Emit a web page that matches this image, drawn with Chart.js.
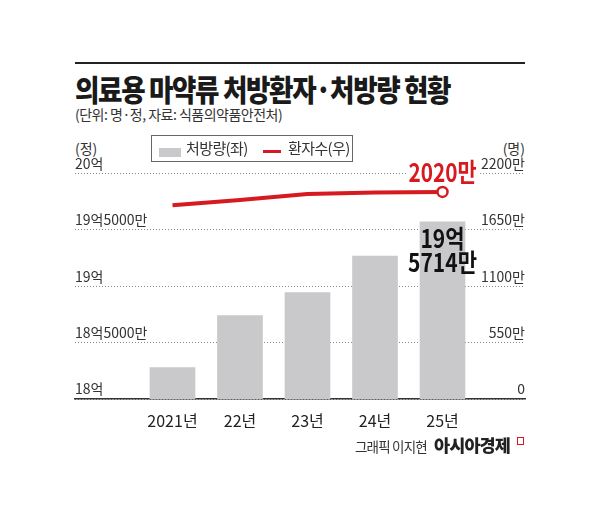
<!DOCTYPE html>
<html>
<head>
<meta charset="utf-8">
<script src="https://cdn.jsdelivr.net/npm/chart.js@4.4.1/dist/chart.umd.min.js"></script>
<style>
  body { margin: 0; width: 600px; height: 525px; background: #fff; position: relative; overflow: hidden;
         font-family: "Noto Sans CJK KR", sans-serif; color: #222; }
  .abs { position: absolute; white-space: nowrap; }
  #rule { left: 75px; top: 62px; width: 450px; height: 2px; background: #222; }
  #title { left: 75px; top: 71px; font-size: 29.5px; font-weight: 900; letter-spacing: -1.5px; transform: scaleX(0.9); transform-origin: left; line-height: 34px; color: #1a1a1a; }
  #sub { left: 75px; top: 104px; font-size: 14px; letter-spacing: -0.5px; line-height: 20px; color: #333; }
  #legend { left: 151px; top: 135px; width: 202px; height: 27px; border: 1px solid #666; box-sizing: border-box; }
  .sw { position: absolute; }
  .lt { position: absolute; top: 2px; font-size: 15px; letter-spacing: -0.6px; line-height: 20px; color: #333; }
  .unit { top: 139px; font-size: 14px; color: #333; line-height: 18px; }
  #wrap { left: 0; top: 120px; width: 600px; height: 320px; }
  #foot1 { left: 355px; top: 437px; font-size: 13.5px; letter-spacing: -0.8px; color: #333; line-height: 18px; }
  #foot2 { left: 434px; top: 434px; font-size: 17.5px; font-weight: 900; letter-spacing: -0.9px; color: #222; line-height: 22px; }
  #flag { left: 517px; top: 437px; width: 5px; height: 6px; border: 1.5px solid #d71920; border-right-width: 1px; }
</style>
</head>
<body>
<div class="abs" id="rule"></div>
<div class="abs" id="title">의료용 마약류 처방환자·처방량 현황</div>
<div class="abs" id="sub">(단위: 명·정, 자료: 식품의약품안전처)</div>
<div class="abs unit" style="left:75px">(정)</div>
<div class="abs unit" style="right:75px">(명)</div>
<div class="abs" id="wrap"><canvas id="chart" width="600" height="320"></canvas></div>
<div class="abs" id="legend">
  <div class="sw" style="left:7px;top:12px;width:22px;height:9px;background:#c9c9cb"></div>
  <div class="lt" style="left:34px">처방량(좌)</div>
  <div class="sw" style="left:111px;top:14px;width:18px;height:3px;background:#d71920"></div>
  <div class="lt" style="left:136px">환자수(우)</div>
</div>
<div class="abs" id="foot1">그래픽 이지현</div>
<div class="abs" id="foot2">아시아경제</div>
<div class="abs" id="flag"></div>

<script>
// 단위: 만 정 / 만 명
const years = ['2021년', '22년', '23년', '24년', '25년'];
const prescriptions = [182790, 187400, 189440, 192680, 195714];
const patients = [1890, 1942, 2000, 2014, 2020];
const leftTicks = [180000, 185000, 190000, 195000, 200000];
const rightTicks = [0, 550, 1100, 1650, 2200];
const barNote = ['19억', '5714만'];
const lineNote = '2020만';

const RED = '#d71920';
const GREY = '#c9c9cb';
const FONT = '"Noto Sans CJK KR", sans-serif';

function leftLabel(v) {
  const eok = Math.floor(v / 10000);
  const man = v % 10000;
  return man ? eok + '억' + man + '만' : eok + '억';
}

// condensed text, centred on x
function narrowText(ctx, text, x, y, sx) {
  ctx.save();
  ctx.translate(x, y);
  ctx.scale(sx, 1);
  ctx.fillText(text, 0, 0);
  ctx.restore();
}

// last-value notes on the bar and on the line
const notes = {
  id: 'notes',
  afterDatasetsDraw(chart) {
    const ctx = chart.ctx;
    const last = years.length - 1;
    const bar = chart.getDatasetMeta(0).data[last];
    const pt = chart.getDatasetMeta(1).data[last];
    ctx.save();
    ctx.textAlign = 'center';
    ctx.textBaseline = 'middle';
    ctx.fillStyle = '#111';
    ctx.font = '700 25px ' + FONT;
    narrowText(ctx, barNote[0], bar.x, bar.y + 17, 0.84);
    narrowText(ctx, barNote[1], bar.x, bar.y + 41, 0.84);

    ctx.font = '700 26px ' + FONT;
    const w = ctx.measureText(lineNote).width * 0.8;
    ctx.fillStyle = '#fff';
    ctx.fillRect(pt.x - w / 2 - 2, pt.y - 32, w + 4, 24);
    ctx.fillStyle = RED;
    narrowText(ctx, lineNote, pt.x, pt.y - 20, 0.8);
    ctx.restore();
  }
};

new Chart(document.getElementById('chart'), {
  data: {
    datasets: [{
      type: 'bar',
      label: '처방량(좌)',
      data: prescriptions.map((v, i) => ({ x: i, y: v })),
      yAxisID: 'y',
      backgroundColor: GREY,
      barThickness: 45,
      order: 2
    }, {
      type: 'line',
      label: '환자수(우)',
      data: patients.map((v, i) => ({ x: i, y: v })),
      yAxisID: 'y1',
      borderColor: RED,
      borderWidth: 4,
      tension: 0,
      pointRadius: patients.map((v, i) => i === patients.length - 1 ? 5 : 0),
      pointBackgroundColor: '#fff',
      pointBorderColor: RED,
      pointBorderWidth: 2.5,
      order: 1
    }]
  },
  options: {
    responsive: false,
    animation: false,
    layout: { padding: { left: 75, right: 75, top: 53.5, bottom: 11 } },
    plugins: { legend: { display: false }, tooltip: { enabled: false } },
    scales: {
      x: {
        type: 'linear',
        offset: false,
        min: -1.444,
        max: 5.222,
        afterBuildTicks: (s) => { s.ticks = years.map((_, i) => ({ value: i })); },
        afterFit: (s) => { s.height = 30; },
        grid: { display: false, drawTicks: false, offset: false },
        border: { display: true, color: '#333', width: 1.5 },
        ticks: {
          autoSkip: false,
          maxRotation: 0,
          padding: 12,
          color: '#222',
          font: { family: FONT, size: 16 },
          callback: (v) => years[v]
        }
      },
      y: {
        position: 'left',
        min: 180000,
        max: 200000,
        afterBuildTicks: (s) => { s.ticks = leftTicks.map((v) => ({ value: v })); },
        afterFit: (s) => { s.width = 0; },
        grid: { color: '#888', lineWidth: 1, drawTicks: false },
        border: { display: false, dash: [1, 2] },
        ticks: {
          autoSkip: false,
          mirror: true,
          padding: 0,
          labelOffset: -10,
          color: '#333',
          font: { family: FONT, size: 14 },
          callback: (v) => leftLabel(v)
        }
      },
      y1: {
        position: 'right',
        min: 0,
        max: 2200,
        afterBuildTicks: (s) => { s.ticks = rightTicks.map((v) => ({ value: v })); },
        afterFit: (s) => { s.width = 0; },
        grid: { display: false, drawTicks: false },
        border: { display: false },
        ticks: {
          autoSkip: false,
          mirror: true,
          padding: 0,
          labelOffset: -10,
          color: '#333',
          font: { family: FONT, size: 14 },
          callback: (v) => v === 0 ? '0' : v + '만'
        }
      }
    }
  },
  plugins: [notes]
});
</script>
</body>
</html>
